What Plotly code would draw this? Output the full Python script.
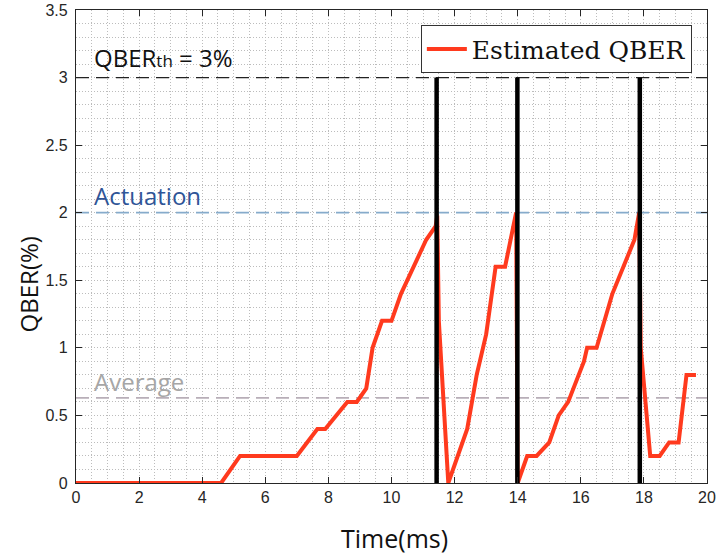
import plotly.graph_objects as go

# Estimated QBER trace (time in ms, QBER in %)
time_ms = [0, 4.6, 5.2, 7.0, 7.65, 7.9, 8.6, 8.9, 9.2, 9.4, 9.7, 10.0, 10.3, 10.7,
           11.1, 11.4, 11.45, 11.5, 11.8, 12.4, 12.7, 13.0, 13.3, 13.6, 13.95, 14.0,
           14.3, 14.6, 15.0, 15.3, 15.6, 16.1, 16.2, 16.5, 17.0, 17.7, 17.85, 17.9,
           18.2, 18.5, 18.8, 19.1, 19.35, 19.65]
qber = [0, 0, 0.2, 0.2, 0.4, 0.4, 0.6, 0.6, 0.7, 1.0, 1.2, 1.2, 1.4, 1.6,
        1.8, 1.9, 1.98, 1.2, 0, 0.4, 0.8, 1.1, 1.6, 1.6, 2.0, 0,
        0.2, 0.2, 0.3, 0.5, 0.6, 0.9, 1.0, 1.0, 1.4, 1.8, 2.0, 1.0,
        0.2, 0.2, 0.3, 0.3, 0.8, 0.8]

# Actuation instants (ms)
actuation_times = [11.43, 13.99, 17.87]

# Reference levels (%)
qber_threshold = 3.0
actuation_level = 2.0
average_level = 0.63

x_range = [0, 20]
y_range = [0, 3.5]
x_ticks = [0, 2, 4, 6, 8, 10, 12, 14, 16, 18, 20]
y_ticks = [0, 0.5, 1, 1.5, 2, 2.5, 3, 3.5]
y_tick_text = ["0", "0.5", "1", "1.5", "2", "2.5", "3", "3.5"]

RED = "#ff3a1e"
AXIS = "#262626"
GRID = "#bcbcbc"
SANS = "Open Sans"

fig = go.Figure()

# Horizontal reference levels
fig.add_trace(go.Scatter(x=x_range, y=[qber_threshold] * 2, mode="lines",
                         line=dict(color="#222222", width=1.2, dash="13px,7px"),
                         showlegend=False, hoverinfo="skip"))
fig.add_trace(go.Scatter(x=x_range, y=[actuation_level] * 2, mode="lines",
                         line=dict(color="#86abcb", width=1.8, dash="13px,7px"),
                         showlegend=False, hoverinfo="skip"))
fig.add_trace(go.Scatter(x=x_range, y=[average_level] * 2, mode="lines",
                         line=dict(color="#b8aeb8", width=1.6, dash="13px,7px"),
                         showlegend=False, hoverinfo="skip"))

# Estimated QBER
fig.add_trace(go.Scatter(x=time_ms, y=qber, mode="lines", name="Estimated QBER",
                         line=dict(color=RED, width=4)))

# Actuation markers from 0 up to the threshold
for t in actuation_times:
    fig.add_trace(go.Scatter(x=[t, t], y=[0, qber_threshold], mode="lines",
                             line=dict(color="black", width=4.5),
                             showlegend=False, hoverinfo="skip"))

axis_common = dict(
    showline=True, linecolor=AXIS, linewidth=1.3, mirror="ticks",
    ticks="inside", ticklen=6, tickcolor=AXIS, tickwidth=1.2,
    tickfont=dict(family="Liberation Sans", size=16, color=AXIS),
    showgrid=True, gridcolor=GRID, gridwidth=1, griddash="1px,2px",
    zeroline=False, automargin=False,
)

fig.update_xaxes(range=x_range, tickvals=x_ticks,
                 minor=dict(dtick=0.5, showgrid=True, gridcolor=GRID,
                            griddash="1px,2px", ticks=""),
                 **axis_common)
fig.update_yaxes(range=y_range, tickvals=y_ticks, ticktext=y_tick_text,
                 ticklabelstandoff=4,
                 minor=dict(dtick=0.1, showgrid=True, gridcolor=GRID,
                            griddash="1px,2px", ticks=""),
                 **axis_common)

annotations = [
    dict(x=0.5, y=3.15, xref="x", yref="y", xanchor="left", yanchor="middle",
         text="QBER<span style='font-size:17px'>th</span> = 3%", showarrow=False,
         font=dict(family=SANS, size=24, color="#111111")),
    dict(x=0.5, y=2.13, xref="x", yref="y", xanchor="left", yanchor="middle",
         text="Actuation", showarrow=False,
         font=dict(family=SANS, size=24, color="#2f5597")),
    dict(x=0.5, y=0.75, xref="x", yref="y", xanchor="left", yanchor="middle",
         text="Average", showarrow=False,
         font=dict(family=SANS, size=24, color="#a6a6a6")),
    dict(x=0.504, y=-0.116, xref="paper", yref="paper", xanchor="center",
         yanchor="middle", text="Time(ms)", showarrow=False,
         font=dict(family=SANS, size=25, color="#111111")),
    dict(x=-0.076, y=0.42, xref="paper", yref="paper", xanchor="center",
         yanchor="middle", text="QBER(%)", textangle=-90, showarrow=False,
         font=dict(family=SANS, size=24, color="#111111")),
]

fig.update_layout(
    width=718, height=555,
    margin=dict(l=76, r=11, t=10, b=72),
    paper_bgcolor="white", plot_bgcolor="white",
    annotations=annotations,
    showlegend=True,
    legend=dict(x=0.976, y=0.968, xanchor="right", yanchor="top",
                bgcolor="white", bordercolor="#333333", borderwidth=1,
                font=dict(family="DejaVu Serif", size=25, color="#111111"),
                itemwidth=40, tracegroupgap=0),
)

fig.write_html("out.html")
